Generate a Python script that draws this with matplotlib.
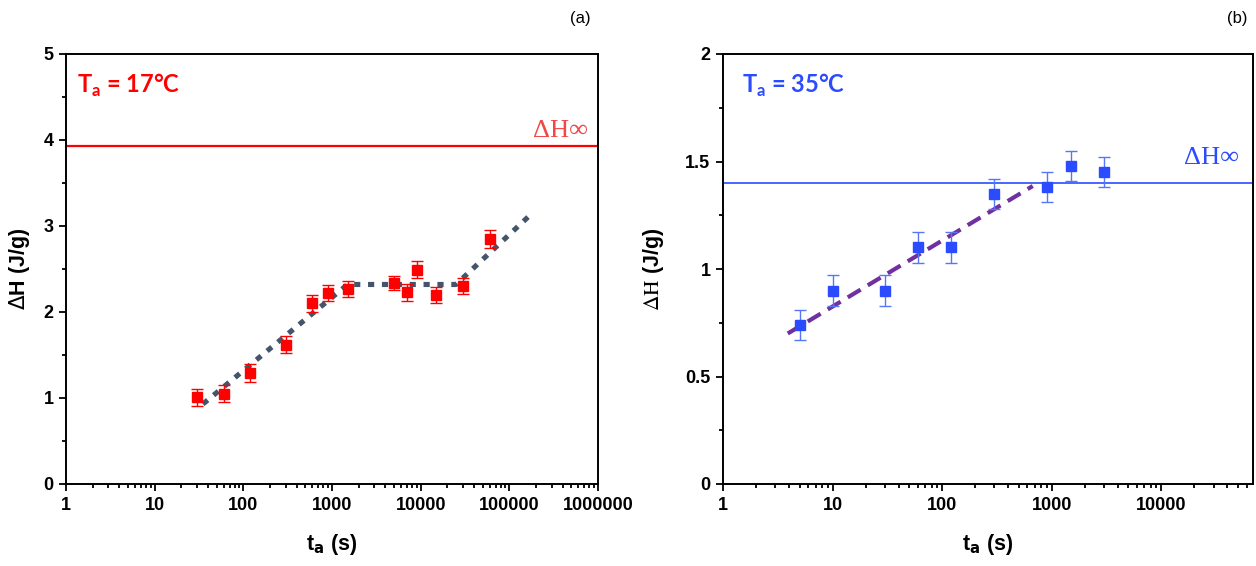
import numpy as np
import matplotlib
matplotlib.use('Agg')
import matplotlib.pyplot as plt
from matplotlib.ticker import FixedLocator, FuncFormatter, MultipleLocator

plt.rcParams['font.family'] = ['Liberation Sans', 'DejaVu Sans']

# panel (a): Ta = 17 C
ta_a = [30, 60, 120, 300, 600, 900, 1500, 5000, 7000, 9000, 15000, 30000, 60000]
dh_a = [1.01, 1.05, 1.29, 1.62, 2.10, 2.22, 2.27, 2.34, 2.23, 2.49, 2.20, 2.30, 2.85]
err_a = [0.10, 0.10, 0.10, 0.10, 0.10, 0.09, 0.09, 0.08, 0.10, 0.10, 0.09, 0.09, 0.10]
fit_a_t = [35, 1500, 25000, 177000]
fit_a_h = [0.93, 2.32, 2.32, 3.14]
dh_inf_a = 3.93

# panel (b): Ta = 35 C
ta_b = [5, 10, 30, 60, 120, 300, 900, 1500, 3000]
dh_b = [0.74, 0.90, 0.90, 1.10, 1.10, 1.35, 1.38, 1.48, 1.45]
err_b = [0.07, 0.07, 0.07, 0.07, 0.07, 0.07, 0.07, 0.07, 0.07]
fit_b_t = [3.9, 670]
fit_b_h = [0.70, 1.386]
dh_inf_b = 1.40

fig = plt.figure(figsize=(12.56, 5.66), dpi=100)
ax1 = fig.add_axes([66/1256, 82/566, 532/1256, 430/566])
ax2 = fig.add_axes([723/1256, 82/566, 530/1256, 430/566])

red = '#FF0000'
blue = '#2B4BFF'


def style(ax, xmax, ndec, ymax, ymaj, ymin):
    ax.set_xscale('log')
    ax.set_xlim(1, xmax)
    ax.set_ylim(0, ymax)
    major = [10.0 ** k for k in range(ndec + 1)]
    minor = [m * 10.0 ** k for k in range(ndec + 1) for m in range(2, 10)
             if m * 10.0 ** k < xmax]
    ax.xaxis.set_major_locator(FixedLocator(major))
    ax.xaxis.set_minor_locator(FixedLocator(minor))
    ax.xaxis.set_major_formatter(FuncFormatter(lambda v, p: f'{int(round(v))}'))
    ax.yaxis.set_major_locator(MultipleLocator(ymaj))
    ax.yaxis.set_minor_locator(MultipleLocator(ymin))
    ax.yaxis.set_major_formatter(FuncFormatter(lambda v, p: f'{v:g}'))
    ax.tick_params(which='both', direction='out', top=False, right=False, width=1.3)
    ax.tick_params(which='major', length=5, labelsize=13, pad=4)
    ax.tick_params(which='minor', length=3)
    for lab in ax.get_xticklabels() + ax.get_yticklabels():
        lab.set_fontweight('bold')
    for s in ax.spines.values():
        s.set_linewidth(1.4)
    ax.set_xlabel(r't$_\mathbf{a}$ (s)', fontsize=15.5, fontweight='bold',
                  math_fontfamily='dejavusans', labelpad=13)


def title_text(ax, x, label, color):
    ax.text(x, 0.928, label, transform=ax.transAxes, color=color, fontsize=17,
            fontweight='bold', family=['Lato', 'DejaVu Sans'],
            math_fontfamily='dejavusans', va='center', ha='left')


def inf_label(px, py, color):
    # position given in pixels from the top-left corner of the figure
    fig.text(px / 1256, 1 - py / 566, 'ΔH∞', color=color, fontsize=19,
             family=['Liberation Serif'], ha='right', va='center')


# ---- (a)
style(ax1, 1e6, 6, 5, 1, 0.5)
ax1.axhline(dh_inf_a, color=red, lw=1.6)
ax1.plot(fit_a_t, fit_a_h, color='#44546A', lw=3.7, linestyle=(0, (1.2, 1.5)),
         dash_capstyle='butt', zorder=3)
ax1.errorbar(ta_a, dh_a, yerr=err_a, fmt='s', color=red, ms=7, ecolor=red,
             elinewidth=1, capsize=4, capthick=1, zorder=4)
title_text(ax1, 0.021, r'T$_\mathregular{a}$ = 17°C', red)
inf_label(588, 131, '#F04848')
ax1.set_ylabel(r'$\Delta$H (J/g)', fontsize=15.5, fontweight='bold',
               math_fontfamily='dejavusans', labelpad=8)

# ---- (b)
style(ax2, 6.85e4, 4, 2, 0.5, 0.25)
ax2.axhline(dh_inf_b, color=blue, lw=1.2)
ax2.plot(fit_b_t, fit_b_h, color='#7030A0', lw=3.0, linestyle=(0, (3.6, 2.0)),
         dash_capstyle='butt', zorder=3)
ax2.errorbar(ta_b, dh_b, yerr=err_b, fmt='s', color=blue, ms=6.5, ecolor='#5577F5',
             elinewidth=1, capsize=4, capthick=1, zorder=4)
title_text(ax2, 0.036, r'T$_\mathregular{a}$ = 35°C', blue)
inf_label(1239, 158, blue)
ax2.set_ylabel(r'$\mathrm{\Delta H}$ (J/g)', fontsize=15.5, fontweight='bold',
               math_fontfamily='stix', labelpad=14)

fig.text(580/1256, 1 - 18/566, '(a)', fontsize=12, ha='center', va='center')
fig.text(1237/1256, 1 - 18/566, '(b)', fontsize=12, ha='center', va='center')

fig.savefig('out.png', dpi=100)
